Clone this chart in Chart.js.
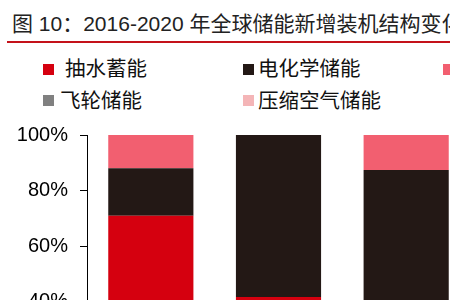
<!DOCTYPE html>
<html>
<head>
<meta charset="utf-8">
<script src="https://cdn.jsdelivr.net/npm/chart.js@4"></script>
<style>
  html, body { margin:0; padding:0; width:450px; height:300px; overflow:hidden; background:#fff; }
  body { position:relative; font-family:"Liberation Sans","Noto Sans CJK SC",sans-serif; }
  #title { position:absolute; left:12px; top:11px; font-size:21px; line-height:26px; color:#222; white-space:nowrap; }
  #rule { position:absolute; left:7px; top:41px; width:443px; height:2px; background:#C4121A; }
  #wrap { position:absolute; left:0; top:0; width:520px; height:470px; }
  .lg { position:absolute; white-space:nowrap; font-size:20.5px; line-height:24px; color:#111; }
  .sw { position:absolute; width:11px; height:11px; }
</style>
</head>
<body>
<div id="title">图 10：2016-2020 年全球储能新增装机结构变化</div>
<div id="rule"></div>
<div id="legend"></div>
<div id="wrap"><canvas id="c" width="520" height="470"></canvas></div>
<script>
const categories = ["2016", "2017", "2018"];
const seriesNames = ["抽水蓄能", "电化学储能", "熔融盐储热", "飞轮储能", "压缩空气储能"];
const pumpedHydro   = [70.9, 41.6, 30.0];
const electrochem   = [17.1, 58.4, 57.4];
const moltenSalt    = [12.0, 0.0, 12.6];
const flywheel      = [0.0, 0.0, 0.0];
const compressedAir = [0.0, 0.0, 0.0];
const yTicks = [0, 20, 40, 60, 80, 100];

const colors = ["#D5000F", "#231815", "#F25F70", "#808080", "#F4B5B7"];
const values = [pumpedHydro, electrochem, moltenSalt, flywheel, compressedAir];

// HTML legend (two rows, three columns)
const legendPos = [[43,69,65],[243,69,258],[443,69,458],[43,100.5,60],[243,100.5,258]];
const lg = document.getElementById('legend');
seriesNames.forEach((n,i)=>{
  const [sx, cy, tx] = legendPos[i];
  const s = document.createElement('div');
  s.className='sw'; s.style.left=sx+'px'; s.style.top=(cy-5.5)+'px'; s.style.background=colors[i];
  lg.appendChild(s);
  const t = document.createElement('div');
  t.className='lg'; t.style.left=tx+'px'; t.style.top=(cy-12)+'px'; t.textContent=n;
  lg.appendChild(t);
});

new Chart(document.getElementById('c'), {
  type: 'bar',
  data: {
    labels: categories,
    datasets: seriesNames.map((n,i)=>({
      label: n, data: values[i], backgroundColor: colors[i], borderWidth: 0,
      barPercentage: 0.667, categoryPercentage: 1.0
    }))
  },
  options: {
    responsive: false,
    devicePixelRatio: 1,
    animation: false,
    layout: { padding: { left: 0, top: 135, right: 50, bottom: 17.5 } },
    plugins: { legend: { display: false }, tooltip: { enabled: false } },
    scales: {
      x: {
        stacked: true,
        grid: { display: false },
        border: { display: true, color: '#000' },
        ticks: { color: '#000', font: { family: 'Liberation Sans', size: 20 } },
        afterFit: s => { s.height = 40; }
      },
      y: {
        stacked: true, min: yTicks[0], max: yTicks[yTicks.length-1],
        afterBuildTicks: s => { s.ticks = yTicks.map(v=>({value:v})); },
        grid: { display: true, drawOnChartArea: false, drawTicks: true, tickLength: 7, color: '#000' },
        border: { display: true, color: '#000', width: 1 },
        ticks: { color: '#000', padding: 12, font: { family: 'Liberation Sans', size: 20 }, callback: v => v + '%' },
        afterFit: s => { s.width = 87; }
      }
    }
  }
});
</script>
</body>
</html>
